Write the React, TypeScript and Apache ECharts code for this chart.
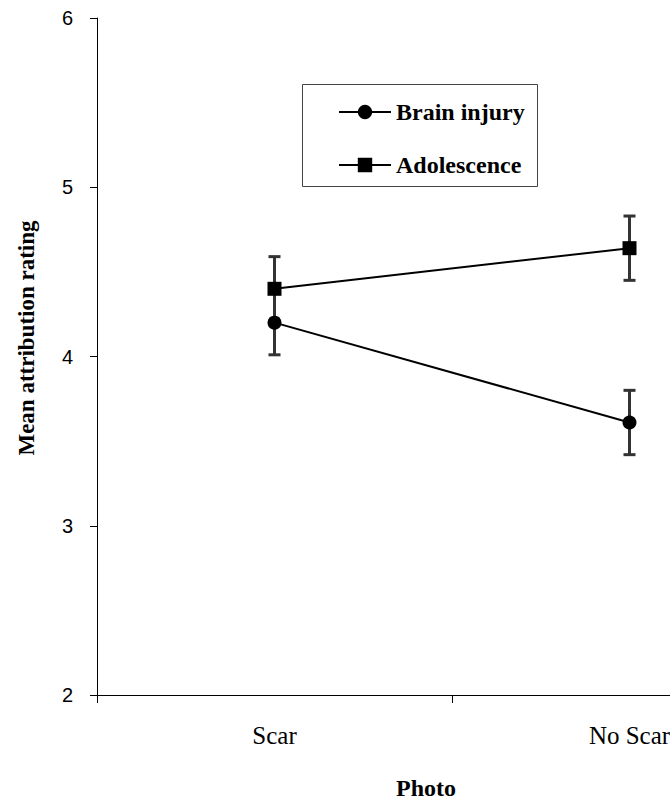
import React, { useEffect, useRef } from "react";
import * as echarts from "echarts";

const categories = ["Scar", "No Scar"];
const brainInjury = [4.2, 3.61];
const brainInjuryErr = [0.19, 0.19];
const adolescence = [4.4, 4.64];
const adolescenceErr = [0.19, 0.19];
const yTicks = { min: 2, max: 6, interval: 1 };

const errorSeries = (name: string, values: number[], errs: number[]) => ({
  name,
  type: "custom",
  z: 1,
  data: values.map((v, i) => [i, v, errs[i]]),
  encode: { x: 0, y: 1 },
  renderItem: (params: any, api: any) => {
    const x = api.value(0);
    const y = api.value(1);
    const e = api.value(2);
    const top = api.coord([x, y + e]);
    const bot = api.coord([x, y - e]);
    const hw = 6;
    const style = { stroke: "#333", lineWidth: 3 };
    return {
      type: "group",
      children: [
        { type: "line", shape: { x1: top[0], y1: top[1], x2: bot[0], y2: bot[1] }, style },
        { type: "line", shape: { x1: top[0] - hw, y1: top[1], x2: top[0] + hw, y2: top[1] }, style },
        { type: "line", shape: { x1: bot[0] - hw, y1: bot[1], x2: bot[0] + hw, y2: bot[1] }, style },
      ],
    };
  },
});

export default function App() {
  const ref = useRef<HTMLDivElement>(null);
  useEffect(() => {
    document.body.style.margin = "0";
    const chart = echarts.init(ref.current!, null, { renderer: "svg" });
    chart.setOption({
      animation: false,
      backgroundColor: "#fff",
      grid: { left: 97, top: 18, width: 710, height: 677, outerBoundsMode: "none", containLabel: false },
      xAxis: {
        type: "category",
        data: categories,
        boundaryGap: true,
        axisLine: { lineStyle: { color: "#000", width: 1 } },
        axisTick: { show: true, length: 8, lineStyle: { color: "#000" } },
        axisLabel: {
          margin: 28,
          fontFamily: "Liberation Serif",
          fontSize: 25,
          color: "#000",
        },
      },
      yAxis: {
        type: "value",
        min: yTicks.min,
        max: yTicks.max,
        interval: yTicks.interval,
        splitLine: { show: false },
        axisLine: { show: true, lineStyle: { color: "#000", width: 1 } },
        axisTick: { show: true, length: 7, lineStyle: { color: "#000" } },
        axisLabel: {
          margin: 24,
          fontFamily: "Liberation Sans",
          fontSize: 20,
          color: "#000",
        },
      },
      legend: {
        data: ["Brain injury", "Adolescence"],
        orient: "vertical",
        left: 302,
        top: 84,
        padding: [16, 12, 11, 36],
        itemGap: 29,
        itemWidth: 52,
        itemHeight: 18,
        textStyle: {
          fontFamily: "Liberation Serif",
          fontWeight: "bold",
          fontSize: 24,
          color: "#000",
        },
      },
      graphic: [
        {
          type: "rect",
          shape: { x: 302.5, y: 84.5, width: 235, height: 102 },
          style: { fill: "none", stroke: "#444", lineWidth: 1 },
          z: 0,
        },
        {
          type: "text",
          x: 26,
          y: 338,
          rotation: Math.PI / 2,
          style: {
            text: "Mean attribution rating",
            fontFamily: "Liberation Serif",
            fontWeight: "bold",
            fontSize: 23,
            fill: "#000",
            align: "center",
            verticalAlign: "middle",
          },
        },
        {
          type: "text",
          x: 426,
          y: 776,
          style: {
            text: "Photo",
            fontFamily: "Liberation Serif",
            fontWeight: "bold",
            fontSize: 24,
            fill: "#000",
            align: "center",
            verticalAlign: "top",
          },
        },
      ],
      series: [
        errorSeries("Brain injury SE", brainInjury, brainInjuryErr),
        errorSeries("Adolescence SE", adolescence, adolescenceErr),
        {
          name: "Brain injury",
          type: "line",
          z: 3,
          data: brainInjury,
          symbol: "circle",
          symbolSize: 14,
          lineStyle: { color: "#000", width: 2 },
          itemStyle: { color: "#000" },
        },
        {
          name: "Adolescence",
          type: "line",
          z: 3,
          data: adolescence,
          symbol: "rect",
          symbolSize: 14,
          lineStyle: { color: "#000", width: 2 },
          itemStyle: { color: "#000" },
        },
      ],
    });
    return () => chart.dispose();
  }, []);
  return <div ref={ref} style={{ width: 670, height: 800 }} />;
}
